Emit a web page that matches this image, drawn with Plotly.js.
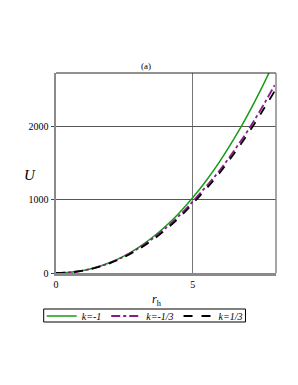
<!DOCTYPE html>
<html><head><meta charset="utf-8">
<script src="https://cdn.plot.ly/plotly-3.0.1.min.js"></script>
<style>html,body{margin:0;padding:0;background:#fff;}#chart{width:298px;height:385px;}</style>
</head><body><div id="chart"></div>
<script>
const rh = [0,0.5,1,1.5,2,2.5,3,3.5,4,4.5,5,5.5,6,6.5,7,7.5,8];
const uKm1 = [0,9,35,81,147,234,344,477,634,816,1025,1262,1526,1821,2146,2503,2893];
const uKm13 = [0,9,34,79,143,227,334,460,608,779,974,1183,1404,1660,1931,2233,2560];
const uK13 = [0,8,32,75,137,218,320,442,586,752,945,1150,1370,1620,1885,2175,2480];
const names = ['<i>k=-1</i>','<i>k=-1/3</i>','<i>k=1/3</i>'];
const xTicks = [0,5];
const yTicks = [0,1000,2000];
const serif = 'Liberation Serif, Times New Roman, serif';

const traces = [
  {x: rh, y: uKm1, name: names[0], mode:'lines', line:{color:'#169b16', width:1.5, shape:'spline'}},
  {x: rh, y: uKm13, name: names[1], mode:'lines', line:{color:'#8a1a8a', width:1.8, dash:'dashdot', shape:'spline'}},
  {x: rh, y: uK13, name: names[2], mode:'lines', line:{color:'#000000', width:1.8, dash:'dash', shape:'spline'}}
];
const layout = {
  width:298, height:385,
  margin:{l:56, r:22, t:73, b:112},
  paper_bgcolor:'#fff', plot_bgcolor:'#fff',
  font:{family:serif, size:10, color:'#000'},
  showlegend:true,
  legend:{orientation:'h', x:-0.065, xanchor:'left', y:-0.1425, yanchor:'top',
    bgcolor:'rgba(0,0,0,0)', borderwidth:0, font:{family:serif, size:10}, itemwidth:30, tracegroupgap:0},
  xaxis:{range:[0,8.05], tickvals:xTicks, ticktext:xTicks.map(String), ticks:'', showgrid:true,
    gridcolor:'#777', gridwidth:1, zeroline:false, showline:true, linecolor:'#8a8a8a', linewidth:2.5,
    tickfont:{family:serif, size:10}, fixedrange:true},
  yaxis:{range:[0,2727], tickvals:yTicks, ticktext:yTicks.map(String), ticks:'outside', ticklen:3,
    tickcolor:'#444', showgrid:true, gridcolor:'#555', gridwidth:1, zeroline:false, showline:true,
    linecolor:'#8a8a8a', linewidth:2.5, tickfont:{family:serif, size:10}, fixedrange:true},
  shapes:[
    {type:'line', xref:'paper', yref:'paper', x0:0, x1:1, y0:1, y1:1, line:{color:'#222', width:1}},
    {type:'line', xref:'paper', yref:'paper', x0:1, x1:1, y0:0, y1:1, line:{color:'#888', width:1.5}}
  ],
  annotations:[
    {text:'(a)', xref:'paper', yref:'paper', x:0.41, y:1, yanchor:'bottom', showarrow:false,
      font:{family:serif, size:9}},
    {text:'<i>U</i>', xref:'paper', yref:'paper', x:-0.155, y:0.49, showarrow:false,
      font:{family:serif, size:15}},
    {text:'<i>r</i><sub>h</sub>', xref:'paper', yref:'paper', x:0.46, y:-0.085, yanchor:'top', showarrow:false,
      font:{family:serif, size:12}}
  ]
};
const gd = document.getElementById('chart');
Plotly.newPlot(gd, traces, layout, {displayModeBar:false, staticPlot:true}).then(function(){
  const items = gd.querySelectorAll('.legend .traces');
  const root = gd.getBoundingClientRect();
  let minX=1e9, maxX=-1e9;
  items.forEach(function(el){
    const lines = el.querySelectorAll('path, text');
    lines.forEach(function(n){
      const b = n.getBoundingClientRect();
      if (b.width > 0) { minX = Math.min(minX, b.left); maxX = Math.max(maxX, b.right); }
    });
  });
  const sz = gd._fullLayout._size;
  const toPx = function(px){ return (px - root.left - sz.l) / sz.w; };
  const toPy = function(py){ return (sz.t + sz.h - py) / sz.h; };
  const box = {type:'rect', xref:'paper', yref:'paper', x0:toPx(minX-3), x1:toPx(maxX+3),
    y0:toPy(322), y1:toPy(309), line:{color:'#000', width:1}, fillcolor:'rgba(0,0,0,0)'};
  Plotly.relayout(gd, {'shapes[2]': box});
});
</script></body></html>
